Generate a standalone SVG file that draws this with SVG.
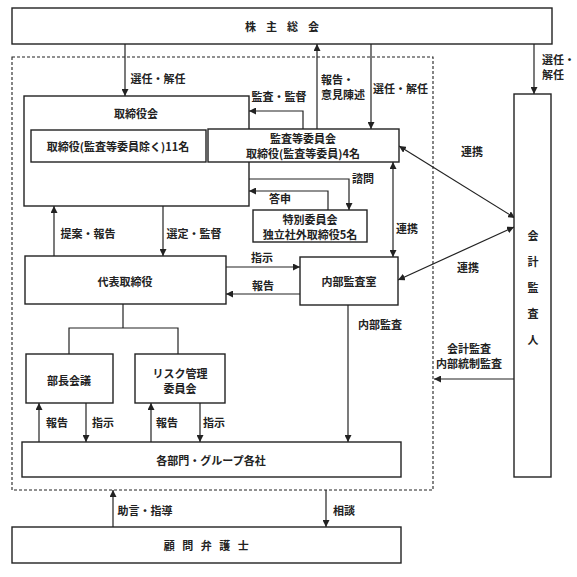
<svg xmlns="http://www.w3.org/2000/svg" width="577" height="577" viewBox="0 0 577 577">
<style>
  .box{fill:#fff;stroke:#222;stroke-width:1.4}
  .dash{fill:none;stroke:#222;stroke-width:1.1;stroke-dasharray:3 2}
  .ln{fill:none;stroke:#222;stroke-width:1.2}
  .t{font-family:"Noto Sans CJK JP","Noto Sans CJK SC",sans-serif;font-size:11px;font-weight:bold;fill:#222;dominant-baseline:central}
  .c{text-anchor:middle}
</style>
<defs>
  <marker id="ah" markerUnits="userSpaceOnUse" markerWidth="7" markerHeight="7" refX="7" refY="3.5" orient="auto-start-reverse">
    <path d="M0,0 L7,3.5 L0,7 z" fill="#222"/>
  </marker>
</defs>
<rect width="577" height="577" fill="#fff"/>

<rect class="dash" x="12" y="57" width="421" height="433"/>

<g id="connectors">
  <path class="ln" d="M125,44 V96" marker-end="url(#ah)"/>
  <path class="ln" d="M317,129 V44" marker-end="url(#ah)"/>
  <path class="ln" d="M371,44 V129" marker-end="url(#ah)"/>
  <path class="ln" d="M534,44 V94" marker-end="url(#ah)"/>
  <path class="ln" d="M303,129 V111 H249" marker-end="url(#ah)"/>
  <path class="ln" d="M249,179 H349 V210" marker-end="url(#ah)"/>
  <path class="ln" d="M328,210 V191 H249" marker-end="url(#ah)"/>
  <path class="ln" d="M393,162 V257" marker-start="url(#ah)" marker-end="url(#ah)"/>
  <path class="ln" d="M399,146 L515,218" marker-start="url(#ah)" marker-end="url(#ah)"/>
  <path class="ln" d="M398,280 L514,227" marker-start="url(#ah)" marker-end="url(#ah)"/>
  <path class="ln" d="M54,256 V206" marker-end="url(#ah)"/>
  <path class="ln" d="M163,206 V256" marker-end="url(#ah)"/>
  <path class="ln" d="M226,267 H300" marker-end="url(#ah)"/>
  <path class="ln" d="M300,294 H226" marker-end="url(#ah)"/>
  <path class="ln" d="M123,304 V328 M69,354 V328 H178 V354"/>
  <path class="ln" d="M39,442 V403" marker-end="url(#ah)"/>
  <path class="ln" d="M86,403 V442" marker-end="url(#ah)"/>
  <path class="ln" d="M151,442 V403" marker-end="url(#ah)"/>
  <path class="ln" d="M200,403 V442" marker-end="url(#ah)"/>
  <path class="ln" d="M348,305 V442" marker-end="url(#ah)"/>
  <path class="ln" d="M514,379 H434" marker-end="url(#ah)"/>
  <path class="ln" d="M113,527 V490" marker-end="url(#ah)"/>
  <path class="ln" d="M326,490 V527" marker-end="url(#ah)"/>
  <text class="t c" x="158" y="78">選任・解任</text>
  <text class="t" x="321" y="79">報告・<tspan x="321" dy="15">意見陳述</tspan></text>
  <text class="t" x="373" y="88">選任・解任</text>
  <text class="t c" x="279" y="96">監査・監督</text>
  <text class="t" x="542" y="59">選任・<tspan x="542" dy="15">解任</tspan></text>
  <text class="t c" x="363" y="178">諮問</text>
  <text class="t c" x="280" y="198">答申</text>
  <text class="t c" x="407" y="228">連携</text>
  <text class="t c" x="472" y="151">連携</text>
  <text class="t c" x="468" y="267">連携</text>
  <text class="t c" x="88" y="233">提案・報告</text>
  <text class="t c" x="194" y="233">選定・監督</text>
  <text class="t c" x="262" y="257">指示</text>
  <text class="t c" x="263" y="285">報告</text>
  <text class="t c" x="380" y="324">内部監査</text>
  <text class="t c" x="469" y="348">会計監査<tspan x="469" dy="15">内部統制監査</tspan></text>
  <text class="t c" x="57" y="422">報告</text>
  <text class="t c" x="103" y="422">指示</text>
  <text class="t c" x="167" y="422">報告</text>
  <text class="t c" x="214" y="422">指示</text>
  <text class="t c" x="145" y="510">助言・指導</text>
  <text class="t c" x="344" y="510">相談</text>
</g>

<g id="shareholders">
  <rect class="box" x="12" y="8" width="540" height="36"/>
  <text class="t c" x="287" y="26" style="letter-spacing:10px">株主総会</text>
</g>
<g id="board">
  <rect class="box" x="24" y="96" width="225" height="110"/>
  <text class="t c" x="136" y="113">取締役会</text>
</g>
<g id="directors">
  <rect class="box" x="31" y="130" width="175" height="32"/>
  <text class="t c" x="118" y="146">取締役(監査等委員除く)11名</text>
</g>
<g id="audit-committee">
  <rect class="box" x="208" y="129" width="191" height="33"/>
  <text class="t c" x="303" y="138">監査等委員会<tspan x="303" dy="15">取締役(監査等委員)4名</tspan></text>
</g>
<g id="special-committee">
  <rect class="box" x="253" y="210" width="114" height="32"/>
  <text class="t c" x="310" y="218.5">特別委員会<tspan x="310" dy="15">独立社外取締役5名</tspan></text>
</g>
<g id="representative">
  <rect class="box" x="25" y="256" width="201" height="48"/>
  <text class="t c" x="125" y="281">代表取締役</text>
</g>
<g id="internal-audit">
  <rect class="box" x="300" y="257" width="98" height="48"/>
  <text class="t c" x="349" y="281">内部監査室</text>
</g>
<g id="managers-meeting">
  <rect class="box" x="26" y="354" width="87" height="49"/>
  <text class="t c" x="69" y="380">部長会議</text>
</g>
<g id="risk-committee">
  <rect class="box" x="135" y="354" width="90" height="49"/>
  <text class="t c" x="180" y="373">リスク管理<tspan x="180" dy="15">委員会</tspan></text>
</g>
<g id="departments">
  <rect class="box" x="22" y="442" width="379" height="35"/>
  <text class="t c" x="211" y="460">各部門・グループ各社</text>
</g>
<g id="accounting-auditor">
  <rect class="box" x="514" y="94" width="37" height="383"/>
  <text class="t c" x="533" y="235">会<tspan x="533" dy="26">計</tspan><tspan x="533" dy="26">監</tspan><tspan x="533" dy="26">査</tspan><tspan x="533" dy="26">人</tspan></text>
</g>
<g id="legal-advisor">
  <rect class="box" x="12" y="527" width="389" height="36"/>
  <text class="t c" x="210" y="545" style="letter-spacing:7.5px">顧問弁護士</text>
</g>
</svg>
